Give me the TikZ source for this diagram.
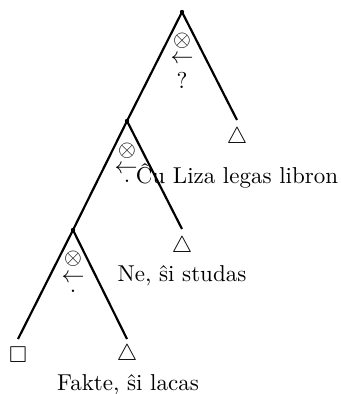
\documentclass[tikz,border=0pt]{standalone}
\usepackage{amssymb}
\tikzset{
  branch/.style={line width=0.95pt},
  sym/.style={inner sep=0pt},
  sent/.style={anchor=base, inner sep=0pt}
}
\begin{document}
\begin{tikzpicture}[x=0.435pt,y=-0.435pt]
\useasboundingbox (0,0) rectangle (340,394);
% tree points
\coordinate (top) at (182,12);
\coordinate (mid) at (127,121);
\coordinate (low) at (73,230);
\coordinate (topR) at (237,120);
\coordinate (midR) at (182,229);
\coordinate (lowL) at (18,339);
\coordinate (lowR) at (127,339);
% branches
\draw[branch] (top) -- (mid) -- (low) -- (lowL);
\draw[branch] (top) -- (topR);
\draw[branch] (mid) -- (midR);
\draw[branch] (low) -- (lowR);
\foreach \p in {top,mid,low} \fill (\p) circle (0.95pt);
% leaves
\node[sym] (leafA) at (237,138) {$\triangle$};
\node[sym] (leafB) at (182,247) {$\triangle$};
\node[sym] (leafC) at (18,355) {$\square$};
\node[sym] (leafD) at (127,355) {$\triangle$};
% edge labels
\node[sym] (oA) at (182,41) {$\otimes$};
\node[sym] (arA) at (182,59) {$\leftarrow$};
\node[sym] (qA) at (182,80) {?};
\node[sym] (oB) at (127,151) {$\otimes$};
\node[sym] (arB) at (126,169) {$\leftarrow$};
\node[sent] (pB) at (127,182) {.};
\node[sym] (oC) at (73,259) {$\otimes$};
\node[sym] (arC) at (73,278) {$\leftarrow$};
\node[sent] (pC) at (73,292) {.};
% sentences
\node[sent] (sA) at (237,183) {Ĉu Liza legas libron};
\node[sent] (sB) at (182,281) {Ne, ŝi studas};
\node[sent] (sC) at (128,390) {Fakte, ŝi lacas};
\end{tikzpicture}
\end{document}
